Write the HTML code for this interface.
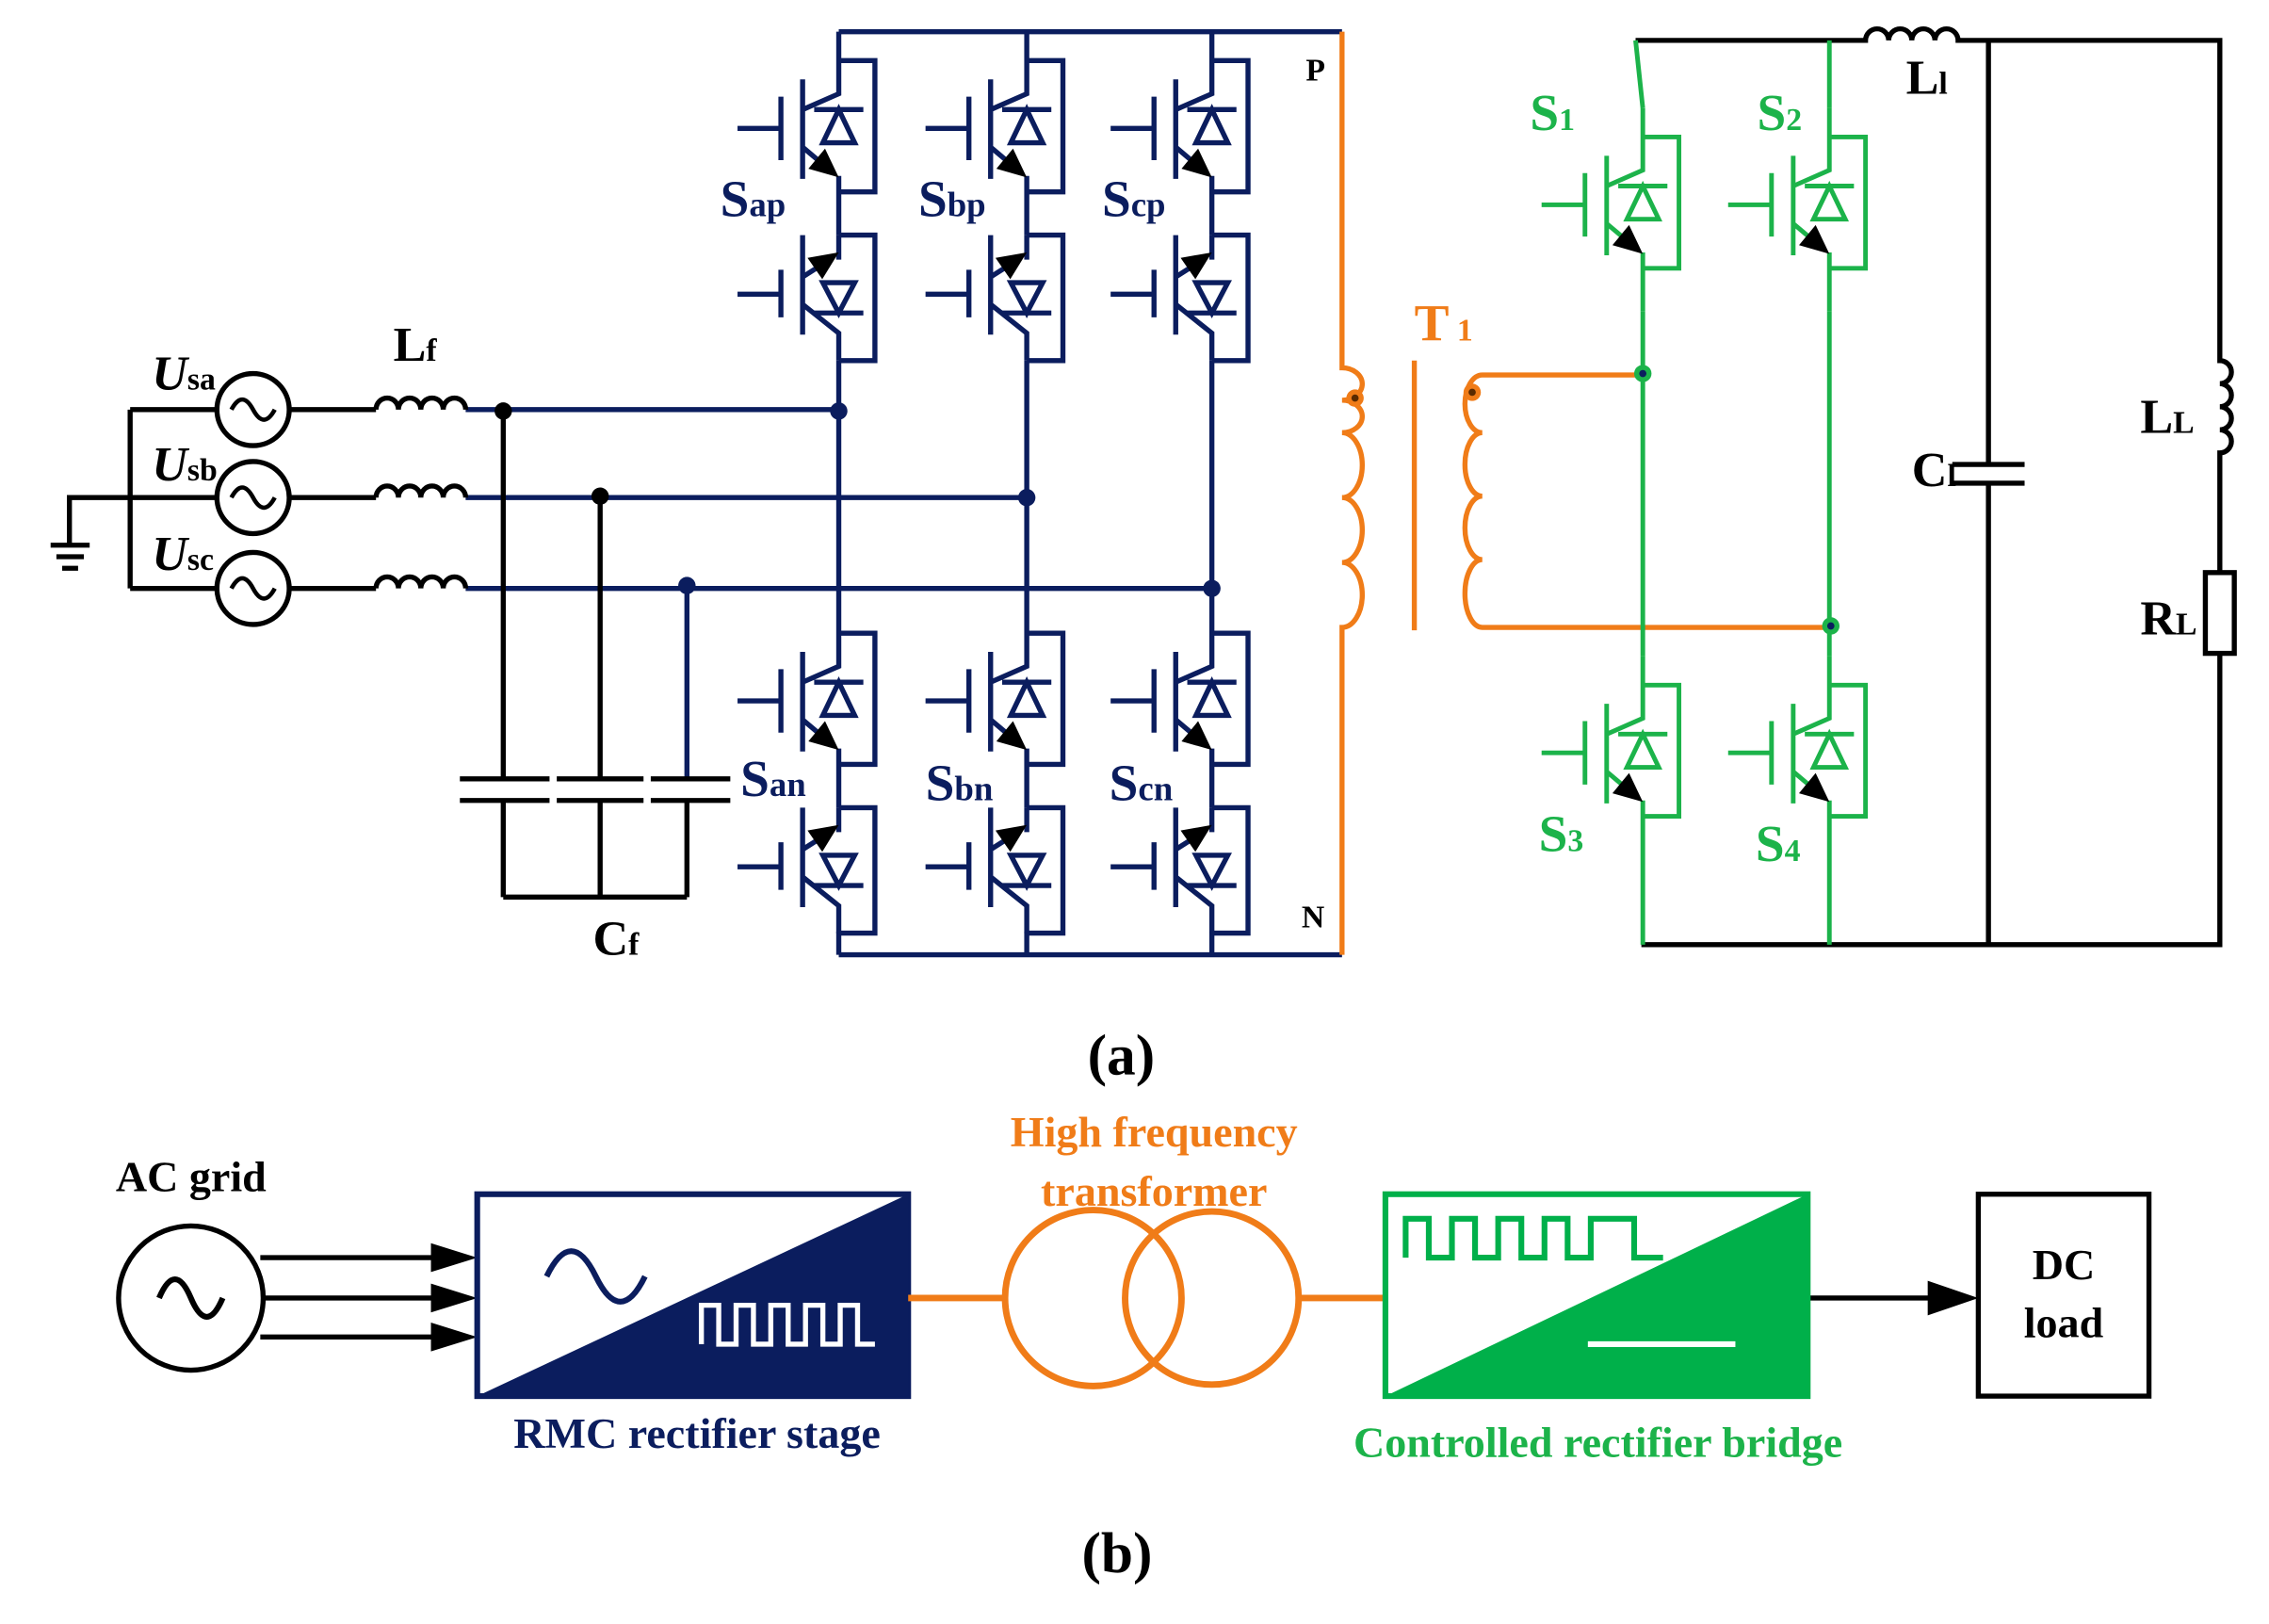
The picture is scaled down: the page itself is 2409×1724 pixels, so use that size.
<!DOCTYPE html>
<html><head><meta charset="utf-8"><style>
html,body{margin:0;padding:0;background:#fff;}
svg{display:block;}
text{font-family:"Liberation Serif",serif;font-weight:bold;}
</style></head><body>
<svg width="2409" height="1724" viewBox="0 0 1569 1126" preserveAspectRatio="none" xmlns="http://www.w3.org/2000/svg">
<defs>
<g id="swt">
  <path d="M0,0 V43 L-25,54 M-25,33 V102 M-40,45 V89 M-70,67 H-40 M-25,80 L-12,91 M0,100 V141 M0,20 H25 V111 H0" fill="none"/>
  <polygon points="0,101 -21,95 -9.5,81" stroke="none" fill="#000"/>
  <path d="M-17,54 H17 M0,54 L-11,77 H11 Z" fill="none"/>
</g>
<g id="swb">
  <path d="M0,141 H25 V228 H0 M0,141 V158 M-25,141 V210 M-40,165 V198 M-70,182 H-40 M-25,170 L-14,163 M-25,189 L0,209 V228" fill="none"/>
  <polygon points="0,153 -11.4,171.6 -21.6,156.8" stroke="none" fill="#000"/>
  <path d="M-17,195 H17 M0,195 L-11,174 H11 Z" fill="none"/>
</g>
</defs>
<rect width="1569" height="1126" fill="#fff"/>

<g stroke="#0b1d5e" fill="none" stroke-width="3.5">
  <path d="M580,22 H928 M580,662 H928"/>
  <path d="M580,250 V419 M710,250 V419 M838,250 V419"/>
  <path d="M580,646 V662 M710,646 V662 M838,646 V662"/>
  <path d="M322,284 H580 M322,345 H710 M322,408 H838"/>
  <path d="M475,408 V540"/>
  <use href="#swt" transform="translate(580,22)"/><use href="#swb" transform="translate(580,22)"/>
  <use href="#swt" transform="translate(710,22)"/><use href="#swb" transform="translate(710,22)"/>
  <use href="#swt" transform="translate(838,22)"/><use href="#swb" transform="translate(838,22)"/>
  <use href="#swt" transform="translate(580,419)"/><use href="#swb" transform="translate(580,419)"/>
  <use href="#swt" transform="translate(710,419)"/><use href="#swb" transform="translate(710,419)"/>
  <use href="#swt" transform="translate(838,419)"/><use href="#swb" transform="translate(838,419)"/>
</g>
<g fill="#0b1d5e">
  <circle cx="580" cy="285" r="6"/><circle cx="710" cy="345" r="6"/><circle cx="838" cy="408" r="6"/><circle cx="475" cy="406" r="6"/>
</g>

<g stroke="#000" fill="none" stroke-width="3.5">
  <circle cx="175" cy="284" r="25"/><circle cx="175" cy="345" r="25"/><circle cx="175" cy="408" r="25"/>
  <path d="M160,284 q7.5,-14 15,0 t15,0 M160,345 q7.5,-14 15,0 t15,0 M160,408 q7.5,-14 15,0 t15,0" stroke-width="3"/>
  <path d="M90,284 V408 M90,284 H150 M90,345 H150 M90,408 H150 M200,284 H260 M200,345 H260 M200,408 H260"/>
  <path d="M90,345 H48 V378 M35,378 H62 M39,386 H58 M43,394 H54"/>
  <path d="M260,284 a7.75,8 0 0 1 15.5,0 a7.75,8 0 0 1 15.5,0 a7.75,8 0 0 1 15.5,0 a7.75,8 0 0 1 15.5,0"/>
  <path d="M260,345 a7.75,8 0 0 1 15.5,0 a7.75,8 0 0 1 15.5,0 a7.75,8 0 0 1 15.5,0 a7.75,8 0 0 1 15.5,0"/>
  <path d="M260,408 a7.75,8 0 0 1 15.5,0 a7.75,8 0 0 1 15.5,0 a7.75,8 0 0 1 15.5,0 a7.75,8 0 0 1 15.5,0"/>
  <path d="M348,284 V540 M415,345 V540 M318,540 H380 M385,540 H445 M450,540 H505 M318,555 H380 M385,555 H445 M450,555 H505 M348,555 V622 M415,555 V622 M475,555 V622 M348,622 H475"/>
</g>
<g fill="#000"><circle cx="348" cy="285" r="6"/><circle cx="415" cy="344" r="6"/></g>

<g stroke="#f07c18" fill="none" stroke-width="3.5">
  <path d="M928,22 V255 a14,11.25 0 0 1 0,22.5 a14,11.25 0 0 1 0,22.5 M928,300 a14,22.5 0 0 1 0,45 a14,22.5 0 0 1 0,45 a14,22.5 0 0 1 0,45 V662"/>
  <path d="M978,250 V437"/>
  <path d="M1136,260 H1025 a12,20 0 0 0 0,40 a12,22 0 0 0 0,44 a12,22 0 0 0 0,44 a12,23.5 0 0 0 0,47 H1265"/>
</g>
<g fill="#f07c18"><circle cx="937" cy="276" r="6"/><circle cx="1018" cy="272" r="6"/></g>
<g fill="#5a2a00"><circle cx="937" cy="276" r="2.5"/><circle cx="1018" cy="272" r="2.5"/></g>

<g stroke="#000" fill="none" stroke-width="3.5">
  <path d="M1131,28 H1290 a8,8 0 0 1 16,0 a8,8 0 0 1 16,0 a8,8 0 0 1 16,0 a8,8 0 0 1 16,0 H1535 V250 a8,8 0 0 1 0,16 a8,8 0 0 1 0,16 a8,8 0 0 1 0,16 a8,8 0 0 1 0,16 V397"/>
  <rect x="1525" y="397" width="20" height="56"/>
  <path d="M1535,453 V655 H1135"/>
  <path d="M1375,28 V322 M1350,322 H1400 M1350,335 H1400 M1375,335 V655"/>
</g>

<g stroke="#1cb34a" fill="none" stroke-width="3.2">
  <path d="M1131,28 L1136,75 M1265,28 V75 M1136,216 V455 M1265,216 V455 M1136,596 V655 M1265,596 V655"/>
  <use href="#swt" transform="translate(1136,75)"/>
  <use href="#swt" transform="translate(1265,75)"/>
  <use href="#swt" transform="translate(1136,455)"/>
  <use href="#swt" transform="translate(1265,455)"/>
</g>
<g fill="#1cb34a"><circle cx="1136" cy="259" r="6"/><circle cx="1266" cy="434" r="6"/></g>
<g fill="#0b1d5e"><circle cx="1136" cy="259" r="2.5"/><circle cx="1266" cy="434" r="2.5"/></g>

<g fill="#0b1d5e" font-size="36">
  <text x="498" y="150">S<tspan font-size="24">ap</tspan></text>
  <text x="635" y="150">S<tspan font-size="24">bp</tspan></text>
  <text x="762" y="150">S<tspan font-size="24">cp</tspan></text>
  <text x="512" y="552">S<tspan font-size="24">an</tspan></text>
  <text x="640" y="555">S<tspan font-size="24">bn</tspan></text>
  <text x="767" y="555">S<tspan font-size="24">cn</tspan></text>
</g>
<g fill="#000" font-size="34">
  <text x="105" y="270" font-style="italic">U<tspan font-size="22" font-style="normal">sa</tspan></text>
  <text x="105" y="333" font-style="italic">U<tspan font-size="22" font-style="normal">sb</tspan></text>
  <text x="105" y="395" font-style="italic">U<tspan font-size="22" font-style="normal">sc</tspan></text>
  <text x="272" y="250">L<tspan font-size="22">f</tspan></text>
  <text x="410" y="662">C<tspan font-size="22">f</tspan></text>
  <text x="1318" y="65">L<tspan font-size="22">l</tspan></text>
  <text x="1322" y="337">C<tspan font-size="22">l</tspan></text>
  <text x="1480" y="300">L<tspan font-size="22">L</tspan></text>
  <text x="1480" y="440">R<tspan font-size="22">L</tspan></text>
  <text x="752" y="745" font-size="40" font-weight="normal">(<tspan font-weight="bold">a</tspan>)</text>
  <text x="748" y="1090" font-size="40" font-weight="normal">(<tspan font-weight="bold">b</tspan>)</text>
</g>
<g font-size="22" font-weight="normal" fill="#000">
  <text x="903" y="56">P</text><text x="900" y="643">N</text>
</g>
<text x="978" y="236" font-size="36" fill="#f07c18">T<tspan font-size="22"> 1</tspan></text>
<g fill="#1cb34a" font-size="36">
  <text x="1058" y="90">S<tspan font-size="22">1</tspan></text>
  <text x="1215" y="90">S<tspan font-size="22">2</tspan></text>
  <text x="1064" y="590">S<tspan font-size="22">3</tspan></text>
  <text x="1214" y="597">S<tspan font-size="22">4</tspan></text>
</g>

<g stroke="#000" fill="none" stroke-width="3.5">
  <circle cx="132" cy="900" r="50"/>
  <path d="M110,900 q11,-26 22,0 t22,0" stroke-width="4"/>
  <path d="M180,872 H300 M183,900 H300 M180,927 H300"/>
  <path d="M1250,900 H1335"/>
  <rect x="1368" y="828" width="118" height="140"/>
</g>
<g fill="#000">
  <polygon points="298,862 330,872 298,882"/><polygon points="298,890 330,900 298,910"/><polygon points="298,917 330,927 298,937"/>
  <polygon points="1333,888 1368,900 1333,912"/>
</g>
<text x="80" y="826" font-size="30" fill="#000">AC grid</text>
<text x="1427" y="887" font-size="30" fill="#000" text-anchor="middle">DC</text>
<text x="1427" y="927" font-size="30" fill="#000" text-anchor="middle">load</text>

<rect x="330" y="828" width="298" height="140" fill="#fff" stroke="#0b1d5e" stroke-width="4"/>
<polygon points="330,968 628,828 628,968" fill="#0b1d5e"/>
<path d="M378,885 q17,-35 34,0 t34,0" stroke="#0b1d5e" stroke-width="4" fill="none"/>
<path d="M485,932 V905 H497 V932 H509 V905 H521 V932 H533 V905 H545 V932 H557 V905 H569 V932 H581 V905 H593 V932 H605" stroke="#fff" stroke-width="3.5" fill="none"/>
<text x="482" y="1004" font-size="30" fill="#0b1d5e" text-anchor="middle">RMC rectifier stage</text>

<g stroke="#f07c18" stroke-width="4.5" fill="none">
  <path d="M628,900 H695 M898,900 H958"/>
  <circle cx="756" cy="900" r="61"/><circle cx="838" cy="900" r="60"/>
</g>
<text x="798" y="795" font-size="30" fill="#f07c18" text-anchor="middle">High frequency</text>
<text x="798" y="836" font-size="30" fill="#f07c18" text-anchor="middle">transformer</text>

<rect x="958" y="828" width="292" height="140" fill="#fff" stroke="#00b04a" stroke-width="4"/>
<polygon points="958,968 1250,828 1250,968" fill="#00b04a"/>
<path d="M972,872 V845 H988 V872 H1004 V845 H1020 V872 H1036 V845 H1052 V872 H1068 V845 H1084 V872 H1100 V845 H1130 V872 H1150" stroke="#00b04a" stroke-width="4" fill="none"/>
<path d="M1098,932 H1200" stroke="#fff" stroke-width="4"/>
<text x="1105" y="1010" font-size="30" fill="#1cb34a" text-anchor="middle">Controlled rectifier bridge</text>
</svg>
</body></html>
